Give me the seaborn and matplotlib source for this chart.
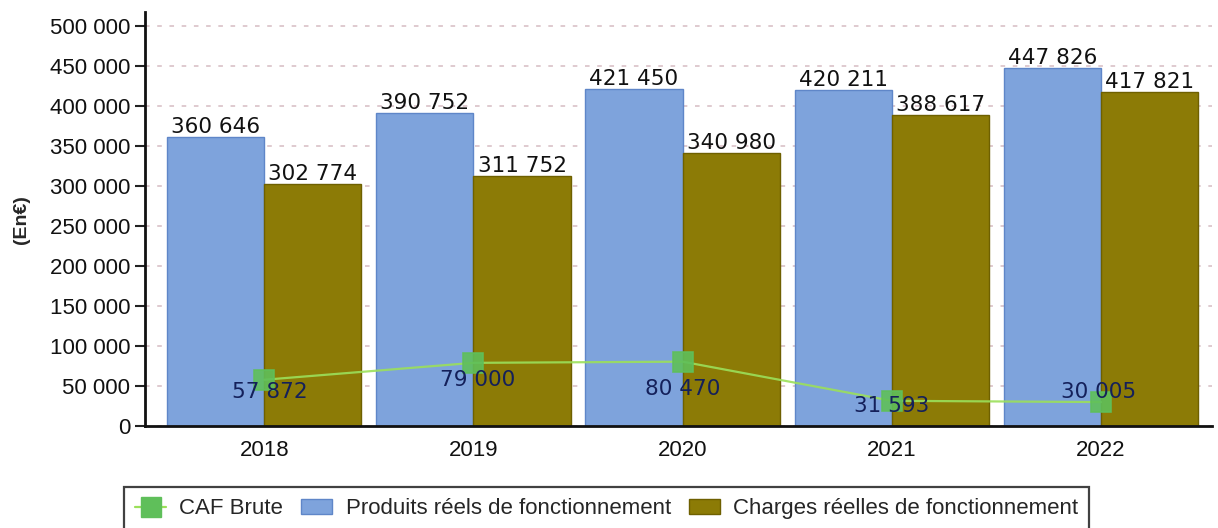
import matplotlib
matplotlib.use("Agg")
import matplotlib.pyplot as plt
import seaborn as sns
import pandas as pd
from matplotlib.patches import Patch
from matplotlib.lines import Line2D

years = ["2018", "2019", "2020", "2021", "2022"]
produits = [360646, 390752, 421450, 420211, 447826]
charges = [302774, 311752, 340980, 388617, 417821]
caf = [57872, 79000, 80470, 31593, 30005]
series_names = ["Produits réels de fonctionnement", "Charges réelles de fonctionnement"]
caf_name = "CAF Brute"
yticks = [0, 50000, 100000, 150000, 200000, 250000, 300000, 350000, 400000, 450000, 500000]

# label offsets for CAF values (points), style only
caf_label_offsets = [(4, -9), (3, -12), (0, -20), (0, -4), (-2, 7)]

blue = "#7ea3dc"
olive = "#8c7b06"
green = "#5fbf5a"
line_green = "#9be05a"

def fmt(v):
    return f"{int(v):,}".replace(",", " ")

sns.set_style("white")
plt.rcParams["font.family"] = ["Liberation Sans", "DejaVu Sans"]

df = pd.DataFrame({
    "year": years * 2,
    "value": produits + charges,
    "serie": [series_names[0]] * len(years) + [series_names[1]] * len(years),
})

fig = plt.figure(figsize=(12.18, 5.28), dpi=100)
ax = fig.add_axes([0.119, 0.193, 0.876, 0.784])

sns.barplot(data=df, x="year", y="value", hue="serie", hue_order=series_names,
            palette=[blue, olive], width=0.93, gap=0, ax=ax, legend=False,
            edgecolor=None, linewidth=0, saturation=1)
for i, cont in enumerate(ax.containers):
    for bar in cont:
        bar.set_edgecolor("#5f86c8" if i == 0 else "#6e6000")
        bar.set_linewidth(1.0)
    ax.bar_label(cont, labels=[fmt(v) for v in (produits if i == 0 else charges)],
                 padding=0, fontsize=15.5, family="DejaVu Sans", color="#111111")

sns.pointplot(x=years, y=caf, color=line_green, markers="s", ax=ax,
              linewidth=1.6, markersize=15, errorbar=None)
for ln in ax.lines:
    if ln.get_marker() == "s":
        ln.set_markerfacecolor(green)
        ln.set_markeredgecolor(green)
        ln.set_alpha(0.9)
for i, v in enumerate(caf):
    ax.annotate(fmt(v), (i, v), xytext=caf_label_offsets[i], textcoords="offset points",
                ha="center", va="center", fontsize=15.5, family="DejaVu Sans",
                color="#14205a", zorder=6)

ax.set_ylim(0, 517000)
ax.set_xlim(-0.57, 4.53)
ax.set_yticks(yticks)
ax.set_yticklabels([fmt(v) for v in yticks], fontsize=16, color="#111111")
ax.tick_params(axis="x", labelsize=16, length=0, pad=10, labelcolor="#111111")
ax.tick_params(axis="y", length=7, width=1.5, direction="out", left=True, color="#222222")
ax.set_xlabel("")
ax.set_ylabel("(En€)", fontsize=14, fontweight="bold")
ax.yaxis.set_label_coords(-0.108, 0.5)

ax.grid(axis="y", color="#d6bcc2", linestyle=(0, (3, 5)), linewidth=1.1)
ax.set_axisbelow(True)
for s in ["top", "right"]:
    ax.spines[s].set_visible(False)
for s in ["left", "bottom"]:
    ax.spines[s].set_color("#111111")
    ax.spines[s].set_linewidth(2)

handles = [
    Line2D([0], [0], color=line_green, marker="s", markersize=14,
           markerfacecolor=green, markeredgecolor=green, linewidth=1.6),
    Patch(facecolor=blue, edgecolor="#5f86c8"),
    Patch(facecolor=olive, edgecolor="#6e6000"),
]
leg = fig.legend(handles, [caf_name] + series_names, loc="upper center",
                 bbox_to_anchor=(0.498, 0.098), ncol=3, fontsize=16,
                 frameon=True, fancybox=False, edgecolor="#111111",
                 handlelength=1.4, handletextpad=0.6, columnspacing=0.8,
                 borderpad=0.5)
leg.get_frame().set_linewidth(1.6)

fig.savefig("out.png", dpi=100)
